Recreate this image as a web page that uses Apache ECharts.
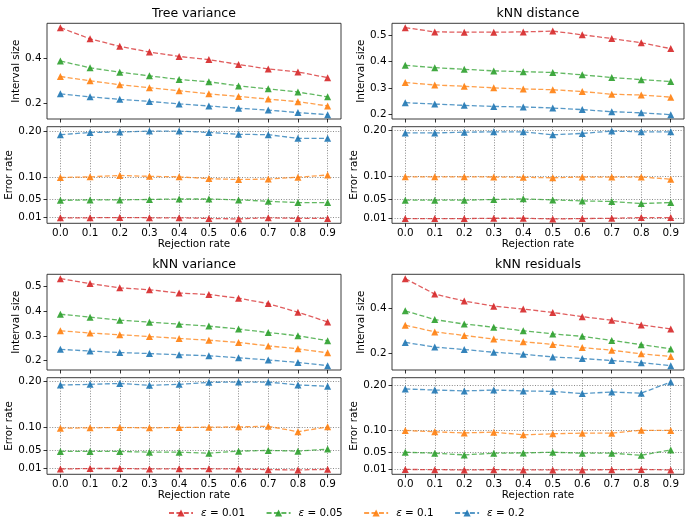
<!DOCTYPE html>
<html><head><meta charset="utf-8">
<script src="https://cdn.jsdelivr.net/npm/echarts@6/dist/echarts.min.js"></script>
<style>html,body{margin:0;padding:0;background:#fff}#c{width:685px;height:519px}</style>
</head><body><div id="c"></div>
<script>
// ---------- data ----------
const rejection = [0.0, 0.1, 0.2, 0.3, 0.4, 0.5, 0.6, 0.7, 0.8, 0.9];
const xTicks = [0.0, 0.1, 0.2, 0.3, 0.4, 0.5, 0.6, 0.7, 0.8, 0.9];
const epsNames = ['ε = 0.01', 'ε = 0.05', 'ε = 0.1', 'ε = 0.2'];
const panelTitles = ['Tree variance', 'kNN distance', 'kNN variance', 'kNN residuals'];
const sizeTicks = [[0.2, 0.4], [0.2, 0.3, 0.4, 0.5], [0.2, 0.3, 0.4, 0.5], [0.2, 0.4]];
const errorTicks = [0.01, 0.05, 0.10, 0.20];

// interval size, rows: eps 0.01, 0.05, 0.1, 0.2
const treeVarianceSize = [
  [0.533, 0.484, 0.451, 0.426, 0.407, 0.393, 0.372, 0.352, 0.339, 0.314],
  [0.387, 0.357, 0.338, 0.322, 0.306, 0.296, 0.278, 0.265, 0.251, 0.230],
  [0.319, 0.300, 0.283, 0.270, 0.257, 0.243, 0.232, 0.220, 0.209, 0.190],
  [0.243, 0.230, 0.219, 0.210, 0.199, 0.190, 0.180, 0.172, 0.161, 0.152]
];
const treeVarianceError = [
  [0.0095, 0.0095, 0.0100, 0.0095, 0.0095, 0.0080, 0.0070, 0.0095, 0.0080, 0.0080],
  [0.048, 0.049, 0.049, 0.050, 0.051, 0.051, 0.049, 0.046, 0.043, 0.043],
  [0.0985, 0.100, 0.103, 0.101, 0.100, 0.096, 0.094, 0.095, 0.099, 0.104],
  [0.193, 0.198, 0.199, 0.201, 0.201, 0.198, 0.194, 0.193, 0.185, 0.185]
];
const knnDistanceSize = [
  [0.527, 0.511, 0.510, 0.510, 0.511, 0.514, 0.500, 0.486, 0.470, 0.448],
  [0.385, 0.376, 0.370, 0.364, 0.361, 0.358, 0.349, 0.339, 0.331, 0.324],
  [0.320, 0.311, 0.306, 0.300, 0.296, 0.293, 0.286, 0.276, 0.273, 0.265],
  [0.244, 0.239, 0.234, 0.230, 0.228, 0.224, 0.218, 0.210, 0.206, 0.199]
];
const knnDistanceError = [
  [0.0087, 0.0087, 0.0087, 0.0094, 0.0094, 0.0080, 0.0087, 0.0094, 0.0109, 0.0109],
  [0.0485, 0.0485, 0.0485, 0.0500, 0.0514, 0.0490, 0.0470, 0.0457, 0.0413, 0.0435],
  [0.099, 0.099, 0.099, 0.0986, 0.098, 0.097, 0.0986, 0.0986, 0.0986, 0.094],
  [0.194, 0.194, 0.1957, 0.1964, 0.1964, 0.190, 0.193, 0.198, 0.1964, 0.1964]
];
const knnVarianceSize = [
  [0.532, 0.512, 0.495, 0.487, 0.474, 0.468, 0.453, 0.431, 0.396, 0.357],
  [0.388, 0.376, 0.364, 0.356, 0.348, 0.340, 0.328, 0.314, 0.301, 0.281],
  [0.321, 0.312, 0.305, 0.298, 0.290, 0.283, 0.274, 0.260, 0.248, 0.232],
  [0.246, 0.239, 0.233, 0.229, 0.224, 0.220, 0.212, 0.203, 0.193, 0.180]
];
const knnVarianceError = [
  [0.0082, 0.0093, 0.0093, 0.0082, 0.0087, 0.0087, 0.0082, 0.0068, 0.0062, 0.0075],
  [0.0467, 0.0467, 0.0467, 0.0452, 0.0452, 0.0430, 0.0474, 0.0490, 0.0474, 0.0520],
  [0.0978, 0.0985, 0.0993, 0.0985, 0.0993, 0.100, 0.1007, 0.102, 0.090, 0.1007],
  [0.1926, 0.194, 0.196, 0.192, 0.194, 0.1985, 0.199, 0.199, 0.1926, 0.190]
];
const knnResidualsSize = [
  [0.532, 0.463, 0.432, 0.409, 0.396, 0.381, 0.362, 0.346, 0.325, 0.307],
  [0.388, 0.349, 0.329, 0.315, 0.299, 0.285, 0.274, 0.256, 0.237, 0.218],
  [0.324, 0.294, 0.278, 0.262, 0.250, 0.238, 0.224, 0.212, 0.196, 0.184],
  [0.247, 0.226, 0.215, 0.203, 0.194, 0.182, 0.175, 0.166, 0.156, 0.143]
];
const knnResidualsError = [
  [0.0103, 0.0098, 0.0092, 0.0098, 0.0092, 0.0092, 0.0092, 0.0098, 0.0103, 0.0092],
  [0.0492, 0.0470, 0.0432, 0.0470, 0.0477, 0.0492, 0.0470, 0.0470, 0.0424, 0.0545],
  [0.0985, 0.0955, 0.0930, 0.0947, 0.0886, 0.0910, 0.0924, 0.0924, 0.0990, 0.0985],
  [0.1924, 0.190, 0.188, 0.190, 0.188, 0.187, 0.182, 0.1856, 0.183, 0.208]
];

const panelSizes = [treeVarianceSize, knnDistanceSize, knnVarianceSize, knnResidualsSize];
const panelErrors = [treeVarianceError, knnDistanceError, knnVarianceError, knnResidualsError];

// ---------- styling / layout ----------
const colors = ['#d62728', '#2ca02c', '#ff7f0e', '#1f77b4'];
const FONT = 'DejaVu Sans';
const TXT = '#000';
const layout = [
  { left: 47, width: 294, top: 23.3, titleY: 13.3 },
  { left: 392, width: 292, top: 23.3, titleY: 13.3 },
  { left: 47, width: 294, top: 274.3, titleY: 264.3 },
  { left: 392, width: 292, top: 274.3, titleY: 264.3 }
];
const UPPER_H = 95.7, LOWER_OFF = 103.4, LOWER_H = 96.6;

function autoRange(rows) {
  let lo = Infinity, hi = -Infinity;
  rows.forEach(r => r.forEach(v => { lo = Math.min(lo, v); hi = Math.max(hi, v); }));
  const m = (hi - lo) * 0.05;
  return [lo - m, hi + m];
}
const xMin = rejection[0] - (rejection[rejection.length - 1] - rejection[0]) * 0.05;
const xMax = rejection[rejection.length - 1] + (rejection[rejection.length - 1] - rejection[0]) * 0.05;

const grids = [], xAxes = [], yAxes = [], series = [], titles = [];
const gridLine = { show: true, lineStyle: { color: '#8a8a8a', width: 1, type: [1, 1.6] } };
const tickStyle = { show: true, inside: false, length: 3.5, lineStyle: { color: '#000', width: 0.8 } };
const noLine = { show: false, onZero: false };

layout.forEach((L, p) => {
  titles.push({
    text: panelTitles[p], left: L.left + L.width / 2, top: L.titleY,
    textAlign: 'center', textVerticalAlign: 'middle', padding: 0,
    textStyle: { fontFamily: FONT, fontSize: 12.5, fontWeight: 'normal', color: TXT }
  });
  const gUp = { left: L.left, width: L.width, top: L.top, height: UPPER_H };
  const gLo = { left: L.left, width: L.width, top: L.top + LOWER_OFF, height: LOWER_H };
  [gUp, gLo].forEach(g => grids.push(Object.assign({
    show: true, borderColor: '#262626', borderWidth: 0.9, backgroundColor: 'transparent', containLabel: false
  }, g)));
  const sr = autoRange(panelSizes[p]);
  const er = autoRange(panelErrors[p]);
  xAxes.push({
    type: 'value', gridIndex: 2 * p, min: xMin, max: xMax, position: 'bottom',
    axisLine: noLine,
    axisTick: Object.assign({ customValues: xTicks }, tickStyle),
    axisLabel: { show: false, customValues: xTicks },
    splitLine: { show: false }
  });
  xAxes.push({
    type: 'value', gridIndex: 2 * p + 1, min: xMin, max: xMax, position: 'bottom',
    name: 'Rejection rate', nameLocation: 'middle', nameGap: 15,
    nameTextStyle: { fontFamily: FONT, fontSize: 10.4, color: TXT },
    axisLine: noLine,
    axisTick: Object.assign({ customValues: xTicks }, tickStyle),
    axisLabel: { customValues: xTicks, margin: 5, fontFamily: FONT, fontSize: 10.4, color: TXT,
      formatter: v => v.toFixed(1) },
    splitLine: gridLine
  });
  yAxes.push({
    type: 'value', gridIndex: 2 * p, min: sr[0], max: sr[1], position: 'left',
    name: 'Interval size', nameLocation: 'middle', nameGap: 22,
    nameTextStyle: { fontFamily: FONT, fontSize: 10.4, color: TXT },
    axisLine: noLine,
    axisTick: Object.assign({ customValues: sizeTicks[p] }, tickStyle),
    axisLabel: { customValues: sizeTicks[p], margin: 5.5, fontFamily: FONT, fontSize: 10.4, color: TXT,
      formatter: v => v.toFixed(1) },
    splitLine: { show: false }
  });
  yAxes.push({
    type: 'value', gridIndex: 2 * p + 1, min: er[0], max: er[1], position: 'left',
    name: 'Error rate', nameLocation: 'middle', nameGap: 29,
    nameTextStyle: { fontFamily: FONT, fontSize: 10.4, color: TXT },
    axisLine: noLine,
    axisTick: Object.assign({ customValues: errorTicks }, tickStyle),
    axisLabel: { customValues: errorTicks, margin: 5.5, fontFamily: FONT, fontSize: 10.4, color: TXT,
      formatter: v => v.toFixed(2) },
    splitLine: gridLine
  });
  for (let i = 0; i < 4; i++) {
    [[panelSizes[p][i], 2 * p], [panelErrors[p][i], 2 * p + 1]].forEach(([vals, idx]) => {
      series.push({
        type: 'line', name: epsNames[i], xAxisIndex: idx, yAxisIndex: idx,
        data: rejection.map((x, j) => [x, vals[j]]),
        symbol: 'triangle', symbolSize: 7, showSymbol: true,
        lineStyle: { color: colors[i], width: 1.3, type: [5, 2.4], opacity: 0.75 },
        itemStyle: { color: colors[i], opacity: 0.9 },
        emphasis: { disabled: true }, animation: false, clip: false
      });
    });
  }
});

const chart = echarts.init(document.getElementById('c'), null, { renderer: 'canvas' });
chart.setOption({
  backgroundColor: '#fff',
  animation: false,
  title: titles,
  grid: grids,
  xAxis: xAxes,
  yAxis: yAxes,
  legend: {
    data: epsNames, left: 168, top: 508, padding: 0, itemWidth: 24, itemHeight: 9, itemGap: 20.5,
    textStyle: { fontFamily: FONT, fontSize: 10.4, color: TXT, padding: [0, 0, 0, 3],
      rich: { i: { fontFamily: FONT, fontSize: 10.4, fontStyle: 'italic', color: TXT } } },
    formatter: n => n.replace('ε', '{i|ε}')
  },
  series: series
});
</script>
</body></html>
